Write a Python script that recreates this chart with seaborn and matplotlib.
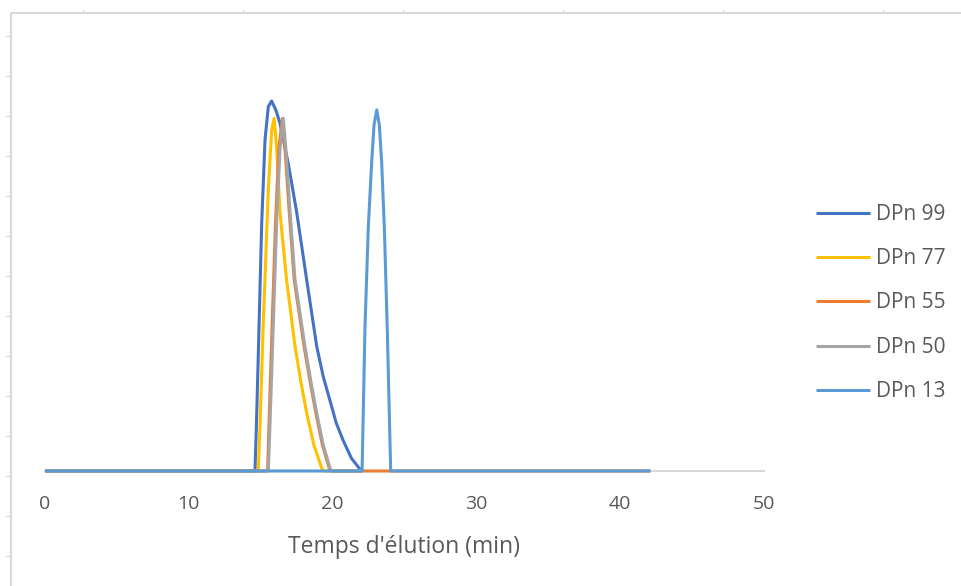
import matplotlib
matplotlib.use("Agg")
import matplotlib.pyplot as plt
from matplotlib.lines import Line2D
import seaborn as sns
import pandas as pd

series = ["DPn 99", "DPn 77", "DPn 55", "DPn 50", "DPn 13"]
colors = ["#4472C4", "#FFC000", "#ED7D31", "#A5A5A5", "#5B9BD5"]

t_99 = [0, 14.6, 14.7, 14.83, 15.07, 15.3, 15.53, 15.76, 16.06, 16.34, 16.92, 17.5, 18.2, 18.9, 19.35, 19.82, 20.25, 20.72, 21.3, 21.9, 22.0]
y_99 = [0, 0, 0.12, 0.31, 0.67, 0.895, 0.985, 1.0, 0.975, 0.94, 0.83, 0.70, 0.516, 0.336, 0.255, 0.19, 0.13, 0.084, 0.035, 0.005, 0]

t_77 = [0, 14.83, 14.95, 15.18, 15.53, 15.76, 15.93, 16.1, 16.34, 16.8, 17.39, 17.8, 18.2, 18.7, 19.24, 19.35, 22.0]
y_77 = [0, 0, 0.12, 0.40, 0.76, 0.92, 0.953, 0.88, 0.70, 0.516, 0.336, 0.24, 0.156, 0.07, 0.008, 0, 0]

t_55 = [0, 15.48, 15.58, 15.8, 16.03, 16.26, 16.51, 16.69, 16.99, 17.33, 18.02, 18.44, 18.84, 19.29, 19.76, 19.85, 24.0, 42.1]
y_55 = [0, 0, 0.13, 0.40, 0.67, 0.87, 0.953, 0.87, 0.696, 0.516, 0.336, 0.24, 0.156, 0.07, 0.008, 0, 0, 0]

t_50 = [0, 15.53, 15.65, 15.88, 16.11, 16.34, 16.57, 16.75, 17.05, 17.39, 18.08, 18.5, 18.9, 19.35, 19.82, 19.9, 22.0]
y_50 = [0, 0, 0.13, 0.40, 0.67, 0.87, 0.953, 0.87, 0.696, 0.516, 0.336, 0.24, 0.156, 0.07, 0.008, 0, 0]

t_13 = [0, 22.05, 22.25, 22.48, 22.72, 22.88, 23.07, 23.25, 23.41, 23.6, 23.8, 24.04, 42.1]
y_13 = [0, 0, 0.386, 0.656, 0.836, 0.935, 0.976, 0.935, 0.836, 0.656, 0.386, 0, 0]

x_ticks = [0, 10, 20, 30, 40, 50]
x_label = "Temps d'élution (min)"

frames = []
for name, t, y in zip(series, [t_99, t_77, t_55, t_50, t_13], [y_99, y_77, y_55, y_50, y_13]):
    frames.append(pd.DataFrame({"t": t, "y": y, "serie": name}))
df = pd.concat(frames, ignore_index=True)

sns.set_theme(style="white")
plt.rcParams["font.family"] = ["Open Sans", "DejaVu Sans"]

W, H = 961, 586
fig = plt.figure(figsize=(W / 100, H / 100), dpi=100)
ax = fig.add_axes([45 / W, 115 / H, 719 / W, 407 / H])

sns.lineplot(data=df, x="t", y="y", hue="serie", palette=dict(zip(series, colors)),
             estimator=None, sort=False, linewidth=2.2, ax=ax)
for ln in ax.lines:
    ln.set_clip_on(False)
    ln.set_zorder(3)
    ln.set_solid_joinstyle("round")
    ln.set_solid_capstyle("butt")

ax.set_xlim(0, 50)
ax.set_ylim(0, 1.1)
ax.set_xticks(x_ticks)
ax.set_yticks([])
ax.tick_params(axis="x", length=0, pad=17, labelsize=14, labelcolor="#595959")
ax.set_xlabel(x_label, fontsize=16.5, color="#595959", labelpad=16)
ax.set_ylabel("")
for s in ["left", "top", "right"]:
    ax.spines[s].set_visible(False)
ax.spines["bottom"].set_color("#D9D9D9")
ax.spines["bottom"].set_linewidth(1.5)

handles, labels = ax.get_legend_handles_labels()
ax.get_legend().remove()
leg = fig.legend(handles, labels, loc="center left", bbox_to_anchor=(816 / W, 1 - 303 / H),
                 frameon=False, fontsize=15, handlelength=2.6, handletextpad=0.3,
                 labelspacing=1.12, borderpad=0, borderaxespad=0)
for txt in leg.get_texts():
    txt.set_color("#595959")

# cadre de la page autour du graphique
fc = "#D9D9D9"
fig.add_artist(Line2D([11 / W, 11 / W], [0, 1 - 13 / H], color=fc, lw=1.5))
fig.add_artist(Line2D([11 / W, 1], [1 - 13 / H, 1 - 13 / H], color=fc, lw=1.5))
for k in range(14):
    yy = 1 - (36 + 40 * k) / H
    fig.add_artist(Line2D([6 / W, 11 / W], [yy, yy], color=fc, lw=1))
for k in range(6):
    xx = (83 + 160 * k) / W
    fig.add_artist(Line2D([xx, xx], [1 - 13 / H, 1 - 10 / H], color=fc, lw=1))

fig.savefig("out.png", dpi=100)
